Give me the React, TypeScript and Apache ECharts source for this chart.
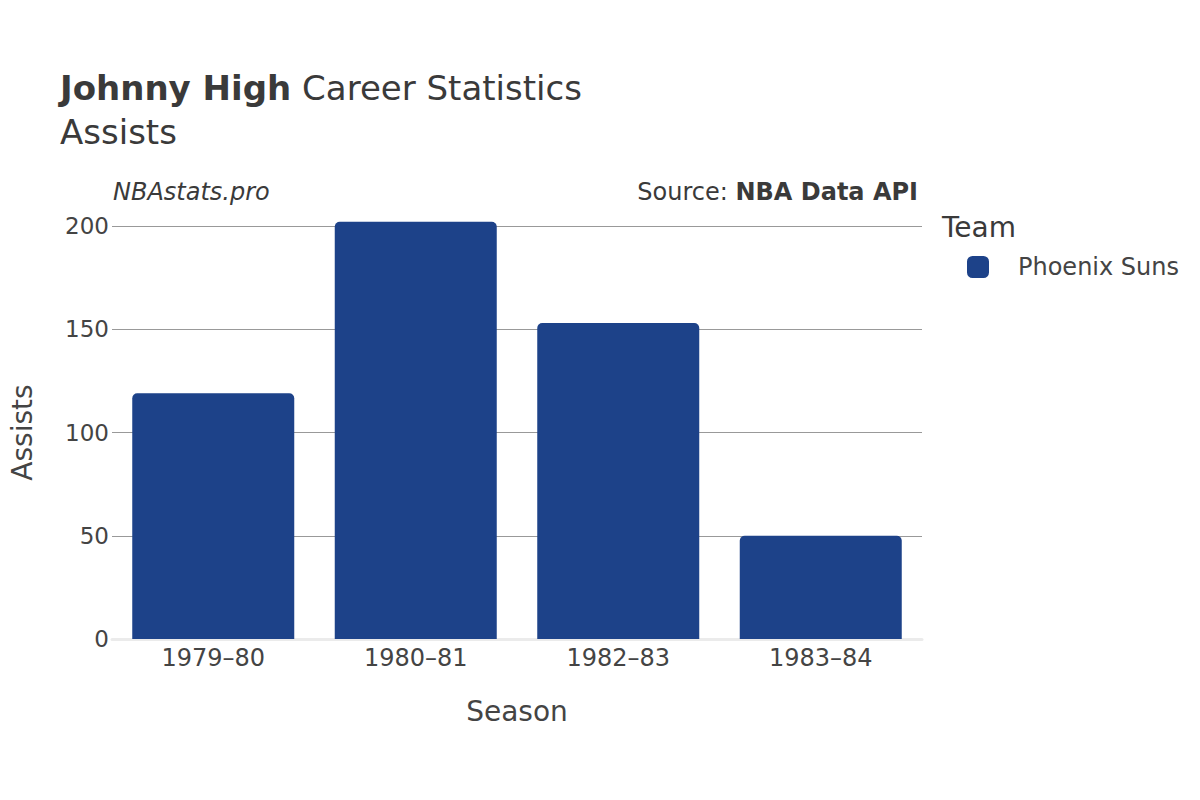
import React, { useEffect, useRef } from "react";
import * as echarts from "echarts";

const seasons = ["1979–80", "1980–81", "1982–83", "1983–84"];
const assists = [119, 202, 153, 50];
const teamName = "Phoenix Suns";
const teamColor = "#1d4289";
const yTicks = [0, 50, 100, 150, 200];

const FONT = "DejaVu Sans";

export default function App() {
  const ref = useRef<HTMLDivElement>(null);
  useEffect(() => {
    if (!ref.current) return;
    const chart = echarts.init(ref.current, undefined, { renderer: "svg" });
    chart.setOption({
      animation: false,
      backgroundColor: "#ffffff",
      textStyle: { fontFamily: FONT },
      grid: { left: 108, right: 278, top: 226, bottom: 161, containLabel: false },
      legend: {
        show: true,
        left: 967,
        top: 255,
        padding: 0,
        orient: "vertical",
        icon: "roundRect",
        itemWidth: 22,
        itemHeight: 22,
        data: [teamName],
        textStyle: { fontFamily: FONT, fontSize: 24, color: "#444", padding: [0, 0, 0, 24] },
      },
      xAxis: {
        type: "category",
        data: seasons,
        name: "Season",
        nameLocation: "middle",
        nameGap: 58,
        nameTextStyle: { fontFamily: FONT, fontSize: 28, color: "#444" },
        axisLine: { show: true, lineStyle: { color: "#ebebeb", width: 3 } },
        axisTick: { show: false },
        axisLabel: { fontFamily: FONT, fontSize: 24, color: "#444", margin: 7 },
      },
      yAxis: {
        type: "value",
        min: 0,
        max: 200,
        interval: 50,
        name: "Assists",
        nameLocation: "middle",
        nameGap: 76,
        nameTextStyle: { fontFamily: FONT, fontSize: 28, color: "#444" },
        axisLine: { show: false },
        axisTick: { show: false },
        axisLabel: {
          fontFamily: FONT,
          fontSize: 23,
          color: "#444",
          margin: 3,
          formatter: (v: number) => (yTicks.includes(v) ? String(v) : ""),
        },
        splitLine: { show: true, lineStyle: { color: "#999", width: 1 } },
      },
      series: [
        {
          name: teamName,
          type: "bar",
          data: assists,
          clip: false,
          barCategoryGap: "20%",
          itemStyle: { color: teamColor, borderRadius: [5, 5, 0, 0] },
          z: 3,
        },
      ],
      graphic: [
        {
          type: "text",
          left: 60,
          top: 71,
          style: {
            text: "{b|Johnny High}{n| Career Statistics}",
            rich: {
              b: { fontFamily: FONT, fontSize: 34, fontWeight: "bold", fill: "#3a3a3a" },
              n: { fontFamily: FONT, fontSize: 34, fill: "#3a3a3a" },
            },
          },
        },
        {
          type: "text",
          left: 60,
          top: 115,
          style: { text: "Assists", fontFamily: FONT, fontSize: 34, fill: "#3a3a3a" },
        },
        {
          type: "text",
          left: 113,
          top: 180,
          style: { text: "NBAstats.pro", fontFamily: FONT, fontSize: 24, fontStyle: "italic", fill: "#3a3a3a" },
        },
        {
          type: "text",
          right: 282,
          top: 180,
          style: {
            text: "{n|Source: }{b|NBA Data API}",
            rich: {
              n: { fontFamily: FONT, fontSize: 24, fill: "#3a3a3a" },
              b: { fontFamily: FONT, fontSize: 24, fontWeight: "bold", fill: "#3a3a3a" },
            },
          },
        },
        {
          type: "text",
          left: 942,
          top: 213,
          style: { text: "Team", fontFamily: FONT, fontSize: 28, fill: "#3a3a3a" },
        },
      ],
    });
    return () => chart.dispose();
  }, []);
  return <div ref={ref} style={{ width: 1200, height: 800, margin: -8 }} />;
}
